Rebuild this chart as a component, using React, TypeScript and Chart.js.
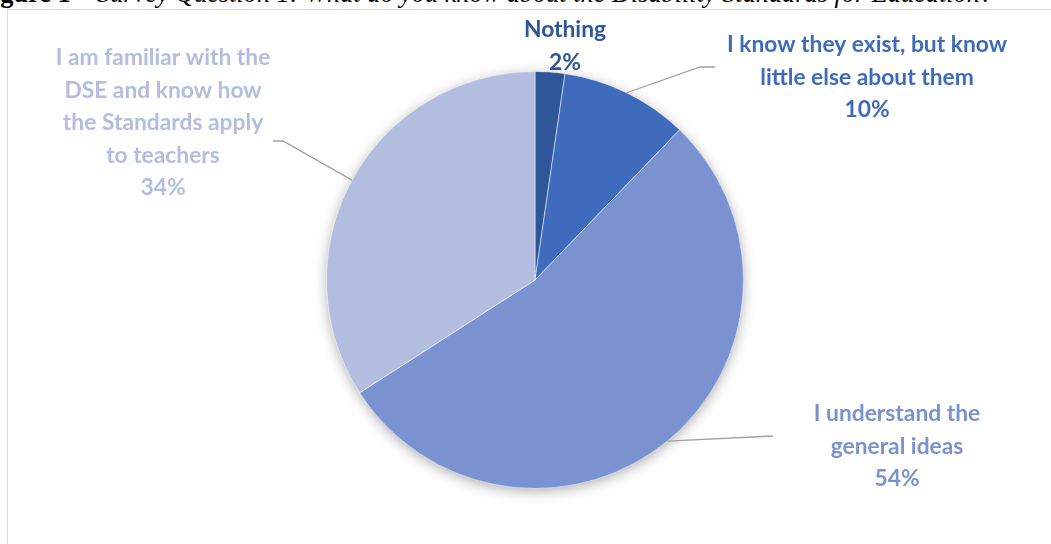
import React, { useEffect, useRef } from "react";
import { Chart, registerables } from "chart.js";

Chart.register(...registerables);

// ---------- data ----------
const categories: string[][] = [
  ["Nothing"],
  ["I know they exist, but know", "little else about them"],
  ["I understand the", "general ideas"],
  ["I am familiar with the", "DSE and know how", "the Standards apply", "to teachers"],
];
const values = [2.3, 9.9, 53.7, 34.1];
const percentLabels = ["2%", "10%", "54%", "34%"];
const sliceColors = ["#30569A", "#3F6BBC", "#7A92CF", "#B3BDDF"];
const captionBold = "Figure 1";
const captionItalic =
  "Survey Question 1: What do you know about the Disability Standards for Education?";

// ---------- layout (offsets from the pie centre, px) ----------
const labelLayout = [
  { dx: 30, dy: -250, elbow: null as null | number[], end: null as null | number[] },
  { dx: 332, dy: -235, elbow: [165, -213], end: [180, -213] },
  { dx: 362, dy: 134, elbow: null, end: [238, 156] },
  { dx: -372, dy: -222, elbow: [-252, -139], end: [-262, -139] },
];
const LABEL_FONT = "bold 22.8px Lato";
const LINE_GAP = 32.5;

const shadowPlugin = {
  id: "pieShadow",
  beforeDatasetsDraw(chart: any) {
    const arc = chart.getDatasetMeta(0).data[0];
    if (!arc) return;
    const { x, y, outerRadius } = arc.getProps(["x", "y", "outerRadius"], true);
    const ctx = chart.ctx;
    ctx.save();
    ctx.shadowColor = "rgba(0,0,0,0.35)";
    ctx.shadowBlur = 14;
    ctx.shadowOffsetY = 3;
    ctx.fillStyle = "#ffffff";
    ctx.beginPath();
    ctx.arc(x, y, outerRadius - 1, 0, Math.PI * 2);
    ctx.fill();
    ctx.restore();
  },
};

const labelPlugin = {
  id: "pieLabels",
  afterDatasetsDraw(chart: any) {
    const meta = chart.getDatasetMeta(0);
    const ctx = chart.ctx;
    meta.data.forEach((arc: any, i: number) => {
      const { x, y, startAngle, endAngle, outerRadius } = arc.getProps(
        ["x", "y", "startAngle", "endAngle", "outerRadius"],
        true
      );
      const lay = labelLayout[i];
      ctx.save();
      if (lay.end) {
        const mid = (startAngle + endAngle) / 2;
        const sx = x + Math.cos(mid) * outerRadius;
        const sy = y + Math.sin(mid) * outerRadius;
        ctx.strokeStyle = "#A0A0A0";
        ctx.lineWidth = 1.3;
        ctx.beginPath();
        ctx.moveTo(sx, sy);
        if (lay.elbow) ctx.lineTo(x + lay.elbow[0], y + lay.elbow[1]);
        ctx.lineTo(x + lay.end[0], y + lay.end[1]);
        ctx.stroke();
      }
      const lines = [...categories[i], percentLabels[i]];
      ctx.fillStyle = sliceColors[i];
      ctx.font = LABEL_FONT;
      ctx.textAlign = "center";
      ctx.textBaseline = "middle";
      lines.forEach((t, k) => {
        ctx.fillText(t, x + lay.dx, y + lay.dy + k * LINE_GAP);
      });
      ctx.restore();
    });
  },
};

export default function App() {
  const ref = useRef<HTMLCanvasElement | null>(null);
  useEffect(() => {
    if (!ref.current) return;
    const chart = new Chart(ref.current, {
      type: "pie",
      data: {
        labels: categories.map((c) => c.join(" ")),
        datasets: [
          {
            data: values,
            backgroundColor: sliceColors,
            borderColor: "rgba(255,255,255,0.5)",
            borderWidth: 1,
          },
        ],
      },
      options: {
        responsive: false,
        animation: false,
        layout: { padding: { top: 71, bottom: 55, left: 19, right: 0 } },
        plugins: { legend: { display: false }, tooltip: { enabled: false } },
      },
      plugins: [shadowPlugin, labelPlugin],
    });
    return () => chart.destroy();
  }, []);

  return (
    <div
      style={{
        position: "fixed",
        left: 0,
        top: 0,
        width: 1051,
        height: 544,
        overflow: "hidden",
        background: "#ffffff",
      }}
    >
      <div
        style={{
          position: "absolute",
          left: 7,
          top: 9,
          width: 1200,
          height: 700,
          border: "1px solid #D9D9D9",
        }}
      />
      <div
        style={{
          position: "absolute",
          left: 0,
          top: 0,
          width: 1051,
          height: 9,
          overflow: "hidden",
        }}
      >
        <div
          style={{
            position: "absolute",
            left: -23,
            top: -19,
            whiteSpace: "nowrap",
            fontFamily: "'Liberation Serif', serif",
            fontSize: 26.3,
            lineHeight: "26px",
            color: "#000",
          }}
        >
          <b>{captionBold}</b> – <i>{captionItalic}</i>
        </div>
      </div>
      <canvas
        ref={ref}
        width={1051}
        height={544}
        style={{ position: "absolute", left: 0, top: 0 }}
      />
    </div>
  );
}
